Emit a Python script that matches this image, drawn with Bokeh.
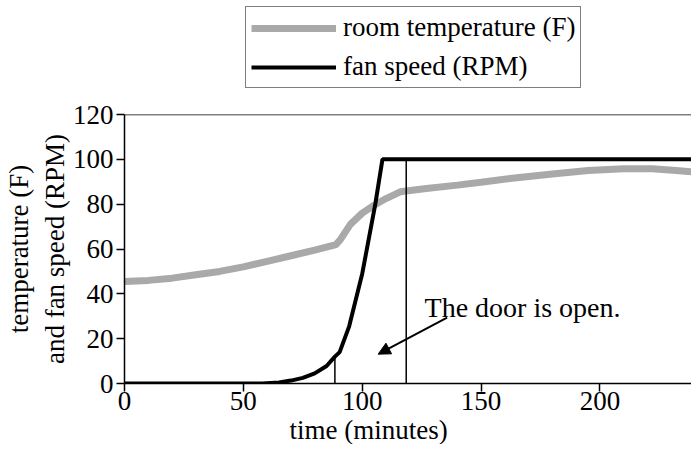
from bokeh.plotting import figure
from bokeh.layouts import column
from bokeh.models import Range1d, Legend, LegendItem, Label, Arrow, NormalHead, Span, Title
from bokeh.embed import file_html
from bokeh.resources import INLINE

# ---- data ----
time_temp = [0, 10, 20, 30, 40, 50, 60, 70, 80, 89, 91, 95, 100, 105, 110, 116,
             127, 140, 150, 165, 180, 195, 210, 222, 232, 240]
temp = [45.5, 46, 47, 48.5, 50, 52, 54.5, 57, 59.5, 62, 64.5, 71, 76, 79.5, 82.5, 85.5,
        87, 88.5, 89.8, 91.8, 93.5, 95, 95.8, 95.8, 95, 94.3]

time_fan = [0, 58, 65, 70, 75, 80, 85, 88.5, 90.5, 94.5, 100, 105.5, 108.5, 240]
fan = [0, 0, 0.5, 1.3, 2.5, 4.5, 7.8, 12, 14, 25.5, 49, 80, 100, 100]

door_x = [88.5, 118.5]
door_top = [12.5, 100]

x_ticks = [0, 50, 100, 150, 200]
y_ticks = [0, 20, 40, 60, 80, 100, 120]

legend_labels = ["room temperature (F)", "fan speed (RPM)"]
note_text = "The door is open."
note_pos = (126.2, 33.9)
arrow_from = (135.7, 29.4)
arrow_to = (106.7, 13.1)

FONT = "Liberation Serif"
FS = "27px"
TEMP_COLOR = "#a9a9a9"

# ---------- legend strip (above the chart) ----------
# its ranges lie outside all the data, so only the legend keys show
leg = figure(width=691, height=90, output_backend="svg", toolbar_location=None,
             x_axis_location=None, y_axis_location=None,
             x_range=Range1d(-20, -10), y_range=Range1d(-20, -10),
             min_border=0)
leg.outline_line_color = None
leg.xgrid.visible = False
leg.ygrid.visible = False
lr_temp = leg.line(time_temp, temp, line_color=TEMP_COLOR, line_width=7)
lr_fan = leg.line(time_fan, fan, line_color="black", line_width=4)

legend = Legend(items=[LegendItem(label=legend_labels[0], renderers=[lr_temp]),
                       LegendItem(label=legend_labels[1], renderers=[lr_fan])],
                location=(121, 2))
legend.border_line_color = "black"
legend.border_line_width = 1.5
legend.background_fill_alpha = 1
legend.label_text_font = FONT
legend.label_text_font_size = FS
legend.label_text_color = "black"
legend.glyph_width = 85
legend.glyph_height = 30
legend.label_height = 30
legend.label_standoff = 7
legend.padding = 5
legend.spacing = 8
legend.margin = 0
leg.add_layout(legend)

# ---------- main chart ----------
p = figure(width=691, height=354, output_backend="svg", toolbar_location=None,
           x_range=Range1d(0, 238.5), y_range=Range1d(0, 120),
           min_border_left=114, min_border_right=0, min_border_top=24,
           min_border_bottom=60)
p.outline_line_color = None
p.xgrid.visible = False
p.ygrid.visible = False

p.line(time_temp, temp, line_color=TEMP_COLOR, line_width=7)
p.line(time_fan, fan, line_color="black", line_width=4)
p.segment(x0=door_x, y0=[0, 0], x1=door_x, y1=door_top, line_color="black",
          line_width=1.5)

p.add_layout(Span(location=120, dimension="width", line_color="black",
                  line_width=1.5))

for ax in (p.xaxis[0], p.yaxis[0]):
    ax.axis_line_width = 1.5
    ax.axis_line_color = "black"
    ax.major_tick_line_color = "black"
    ax.major_tick_line_width = 1.5
    ax.major_tick_out = 8
    ax.major_tick_in = 0
    ax.minor_tick_line_color = None
    ax.major_label_text_font = FONT
    ax.major_label_text_font_size = FS
    ax.major_label_text_color = "black"
    ax.axis_label_text_font = FONT
    ax.axis_label_text_font_size = FS
    ax.axis_label_text_font_style = "normal"
    ax.axis_label_text_color = "black"

p.xaxis.ticker = x_ticks
p.yaxis.ticker = y_ticks
p.xaxis.major_label_standoff = 0
p.yaxis.major_label_standoff = 3
p.yaxis.axis_label = "temperature (F)\nand fan speed (RPM)"
p.yaxis.axis_label_standoff = 0

p.add_layout(Title(text="time (minutes)", align="left", offset=165,
                   text_font=FONT, text_font_size=FS, text_font_style="normal",
                   text_color="black", standoff=0), "below")

p.add_layout(Label(x=note_pos[0], y=note_pos[1], text=note_text,
                   text_font=FONT, text_font_size="28px",
                   text_baseline="alphabetic", text_color="black"))

p.add_layout(Arrow(end=NormalHead(size=12, fill_color="black", line_color="black"),
                   x_start=arrow_from[0], y_start=arrow_from[1],
                   x_end=arrow_to[0], y_end=arrow_to[1],
                   line_color="black", line_width=2))

layout = column(leg, p, spacing=0)
open("out.html", "w").write(file_html(layout, INLINE))
